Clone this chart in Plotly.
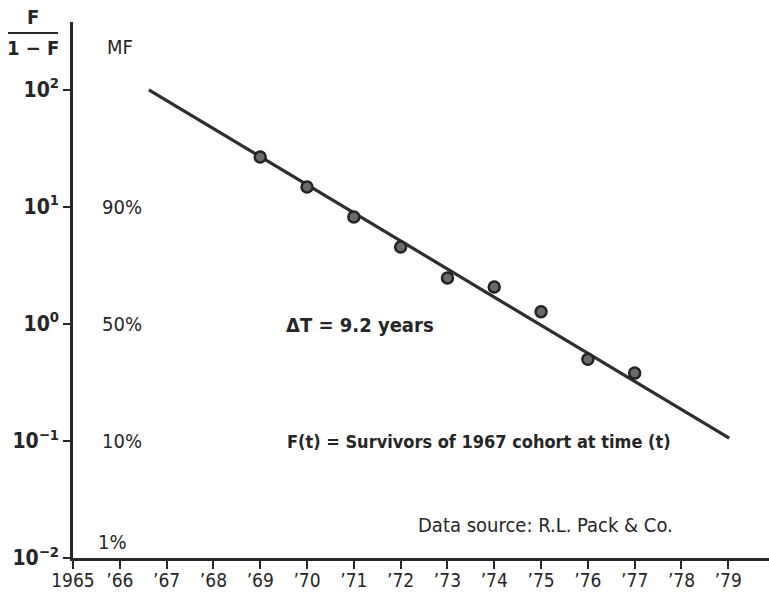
import math
import plotly.graph_objects as go

# Fisher-Pry substitution plot: survivors of the 1967 cohort
years = [1969, 1970, 1971, 1972, 1973, 1974, 1975, 1976, 1977]
ratio = [26.7, 14.8, 8.2, 4.55, 2.47, 2.07, 1.27, 0.50, 0.38]

# fitted trend line end points
fit_years = [1966.62, 1979.02]
fit_ratio = [100.0, 0.106]

x_ticks = list(range(1965, 1980))
x_labels = ["1965"] + ["\u2019" + str(y)[2:] for y in range(1966, 1980)]
y_ticks = [0.01, 0.1, 1, 10, 100]
y_labels = ["10<sup>\u22122</sup>", "10<sup>\u22121</sup>", "10<sup>0</sup>",
            "10<sup>1</sup>", "10<sup>2</sup>"]
mf_labels = ["1%", "10%", "50%", "90%"]
mf_levels = [0.01, 0.1, 1, 10]

FONT = "DejaVu Sans Condensed, Liberation Sans Narrow, Arial Narrow, sans-serif"
INK = "#262626"

fig = go.Figure()
fig.add_trace(go.Scatter(x=fit_years, y=fit_ratio, mode="lines",
                         line=dict(color="#2e2e2e", width=3.2),
                         hoverinfo="skip", showlegend=False))
fig.add_trace(go.Scatter(x=years, y=ratio, mode="markers",
                         marker=dict(symbol="circle", size=11, color="#6a6a6a",
                                     line=dict(color="#232323", width=2.5)),
                         showlegend=False))

W, H = 769, 595
L, R, T, B = 73, 0, 22, 37
pw, ph = W - L - R, H - T - B


def px(x):
    return (x - L) / pw


def py(y):
    return (H - B - y) / ph


def txt(size=20, bold=False):
    return dict(size=size, color=INK, family=FONT, weight="bold" if bold else "normal")


anns = []
for lab, lev in zip(mf_labels, mf_levels):
    if lab == "1%":
        anns.append(dict(x=1965.85, y=-2, xref="x", yref="y", text=lab,
                         showarrow=False, xanchor="center", yanchor="bottom",
                         yshift=2, font=txt()))
    else:
        anns.append(dict(x=1966.05, y=math.log10(lev), xref="x", yref="y", text=lab,
                         showarrow=False, xanchor="center", yanchor="middle",
                         font=txt()))

anns += [
    dict(x=1966.0, y=py(47), xref="x", yref="paper", text="MF", showarrow=False,
         xanchor="center", yanchor="middle", font=txt()),
    dict(x=px(33), y=py(17), xref="paper", yref="paper", text="F", showarrow=False,
         xanchor="center", yanchor="middle", font=txt(bold=True)),
    dict(x=px(33), y=py(48), xref="paper", yref="paper", text="1 \u2212 F", showarrow=False,
         xanchor="center", yanchor="middle", font=txt(bold=True)),
    dict(x=px(360), y=py(325), xref="paper", yref="paper", text="\u0394T = 9.2 years",
         showarrow=False, xanchor="center", yanchor="middle", font=txt(20, True)),
    dict(x=px(479), y=py(441), xref="paper", yref="paper",
         text="F(t) = Survivors of 1967 cohort at time (t)",
         showarrow=False, xanchor="center", yanchor="middle", font=txt(18, True)),
    dict(x=px(545), y=py(525), xref="paper", yref="paper",
         text="Data source: R.L. Pack & Co.",
         showarrow=False, xanchor="center", yanchor="middle", font=txt(20)),
]

shapes = [dict(type="line", xref="paper", yref="paper", x0=px(8), x1=px(58),
               y0=py(33), y1=py(33), line=dict(color=INK, width=2))]

fig.update_layout(
    width=W, height=H,
    margin=dict(l=L, r=R, t=T, b=B, autoexpand=False),
    paper_bgcolor="white", plot_bgcolor="white",
    annotations=anns, shapes=shapes,
    xaxis=dict(range=[1965, 1979.87], tickmode="array", tickvals=x_ticks,
               ticktext=x_labels, ticks="outside", ticklen=8, tickwidth=2,
               tickcolor=INK, showline=True, linecolor=INK, linewidth=2.5,
               showgrid=False, zeroline=False, automargin=False,
               ticklabelstandoff=-5, tickfont=txt(19)),
    yaxis=dict(type="log", range=[-2, 2.58], tickmode="array", tickvals=y_ticks,
               ticktext=y_labels, ticks="outside", ticklen=7, tickwidth=2,
               tickcolor=INK, showline=True, linecolor=INK, linewidth=2.5,
               showgrid=False, zeroline=False, automargin=False,
               tickfont=txt(21, True)),
)

fig.write_html("out.html")
